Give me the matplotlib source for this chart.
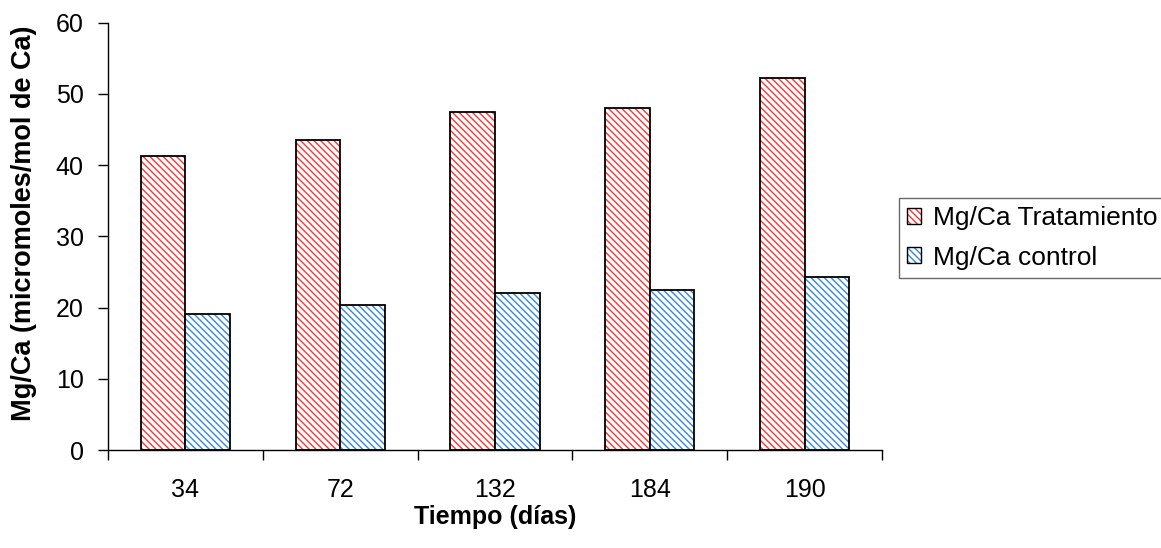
import matplotlib
matplotlib.use("Agg")
import matplotlib.pyplot as plt
import numpy as np
from matplotlib.patches import Patch

plt.rcParams['font.family'] = ['Liberation Sans', 'DejaVu Sans']
plt.rcParams['hatch.linewidth'] = 1.0

tiempos = ["34", "72", "132", "184", "190"]
tratamiento = [41.3, 43.5, 47.5, 48.0, 52.2]
control = [19.1, 20.3, 22.0, 22.5, 24.3]
y_ticks = [0, 10, 20, 30, 40, 50, 60]

red = "#ff3535"
blue = "#3388de"
hatch = "\\\\\\\\\\"

W, H = 1161, 548
fig = plt.figure(figsize=(W / 100, H / 100), dpi=100)
ax = fig.add_axes([108 / W, 1 - 450 / H, 774 / W, 427.3 / H])

x = np.arange(len(tiempos))
w = 0.288

for vals, off, col in [(tratamiento, -w / 2, red), (control, w / 2, blue)]:
    ax.bar(x + off, vals, w, facecolor="white", edgecolor=col, hatch=hatch, linewidth=0)
    ax.bar(x + off, vals, w, facecolor="none", edgecolor="black", linewidth=1.3)

ax.set_xlim(-0.5, len(tiempos) - 0.5)
ax.set_ylim(0, 60)
ax.set_yticks(y_ticks)
ax.set_xticks(x)
ax.set_xticklabels(tiempos)
ax.set_xticks(np.arange(len(tiempos) + 1) - 0.5, minor=True)
ax.tick_params(axis="x", which="major", length=0, pad=20, labelsize=18)
ax.tick_params(axis="x", which="minor", length=7, width=1, direction="out", color="black")
ax.tick_params(axis="y", length=7, width=1, direction="out", pad=10.5, labelsize=18)

for s in ["top", "right"]:
    ax.spines[s].set_visible(False)
for s in ["left", "bottom"]:
    ax.spines[s].set_color("black")
    ax.spines[s].set_linewidth(1)

ax.set_xlabel("Tiempo (días)", fontsize=18, fontweight="bold")
ax.set_ylabel("Mg/Ca (micromoles/mol de Ca)", fontsize=19.5, fontweight="bold")
ax.xaxis.set_label_coords(0.5, (450 - 505) / 427.3)
ax.yaxis.set_label_coords((37 - 108) / 774, (450 - 223) / 427.3)

h1 = (Patch(facecolor="white", edgecolor=red, hatch=hatch, linewidth=0),
      Patch(facecolor="none", edgecolor="black", linewidth=1))
h2 = (Patch(facecolor="white", edgecolor=blue, hatch=hatch, linewidth=0),
      Patch(facecolor="none", edgecolor="black", linewidth=1))
leg = fig.legend([h1, h2], ["Mg/Ca Tratamiento", "Mg/Ca control"],
                 loc="upper left", bbox_to_anchor=(899 / W, 1 - 198 / H),
                 fontsize=19, frameon=True, fancybox=False, edgecolor="#444444",
                 handlelength=0.55, handleheight=0.55, handletextpad=0.42,
                 borderpad=0.3, labelspacing=0.6, borderaxespad=0)
leg.get_frame().set_linewidth(1)

fig.savefig("out.png", dpi=100)
